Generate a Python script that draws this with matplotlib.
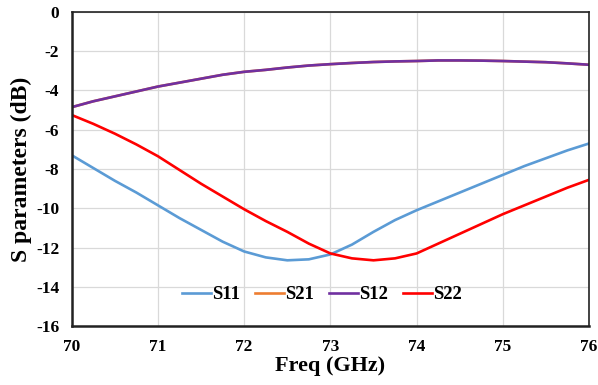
import numpy as np
import matplotlib.pyplot as plt

freq = [70, 70.25, 70.5, 70.75, 71, 71.25, 71.5, 71.75, 72, 72.25, 72.5, 72.75, 73,
        73.25, 73.5, 73.75, 74, 74.25, 74.5, 74.75, 75, 75.25, 75.5, 75.75, 76]

s11 = [-7.3, -7.95, -8.6, -9.2, -9.85, -10.5, -11.1, -11.7, -12.2, -12.5, -12.65, -12.6, -12.35,
       -11.85, -11.2, -10.6, -10.1, -9.65, -9.2, -8.75, -8.3, -7.85, -7.45, -7.05, -6.7]
s22 = [-5.25, -5.7, -6.2, -6.75, -7.35, -8.05, -8.75, -9.4, -10.05, -10.65, -11.2, -11.8, -12.3,
       -12.55, -12.65, -12.55, -12.3, -11.8, -11.3, -10.8, -10.3, -9.85, -9.4, -8.95, -8.55]
s12 = [-4.85, -4.55, -4.3, -4.05, -3.8, -3.6, -3.4, -3.2, -3.05, -2.95, -2.83, -2.73, -2.66,
       -2.6, -2.55, -2.52, -2.5, -2.47, -2.47, -2.48, -2.5, -2.53, -2.56, -2.62, -2.69]
# S21 is hidden under S12 in the original
s21 = list(s12)

xticks = [70, 71, 72, 73, 74, 75, 76]
yticks = [0, -2, -4, -6, -8, -10, -12, -14, -16]

plt.rcParams['font.family'] = 'Liberation Serif'
plt.rcParams['font.weight'] = 'bold'
plt.rcParams['axes.unicode_minus'] = False

fig = plt.figure(figsize=(5.98, 3.85), dpi=100)
ax = fig.add_axes([0.120, 0.153, 0.865, 0.816])

ax.plot(freq, s11, color='#5B9BD5', lw=1.9, label='S11')
ax.plot(freq, s21, color='#ED7D31', lw=1.9, label='S21')
ax.plot(freq, s12, color='#7030A0', lw=1.9, label='S12')
ax.plot(freq, s22, color='#FF0000', lw=1.9, label='S22')

ax.set_xlim(70, 76)
ax.set_ylim(-16, 0)
ax.set_xticks(xticks)
ax.set_yticks(yticks)
ax.grid(True, color='#d9d9d9', lw=0.9)
ax.set_axisbelow(True)
ax.tick_params(length=0, labelsize=12.5, pad=9)
for s in ax.spines.values():
    s.set_color('#222222')
    s.set_linewidth(1.2)
ax.spines['left'].set_linewidth(1.8)
ax.spines['bottom'].set_linewidth(1.8)

ax.set_xlabel('Freq (GHz)', fontsize=16, fontweight='bold', labelpad=1)
ax.set_ylabel('S parameters (dB)', fontsize=17, fontweight='bold', labelpad=3)

leg = ax.legend(loc='center', bbox_to_anchor=(0.483, 0.10), ncol=4, frameon=False,
                fontsize=13.5, handlelength=1.55, columnspacing=0.8, handletextpad=0.05)

fig.savefig('out.png', dpi=100)
